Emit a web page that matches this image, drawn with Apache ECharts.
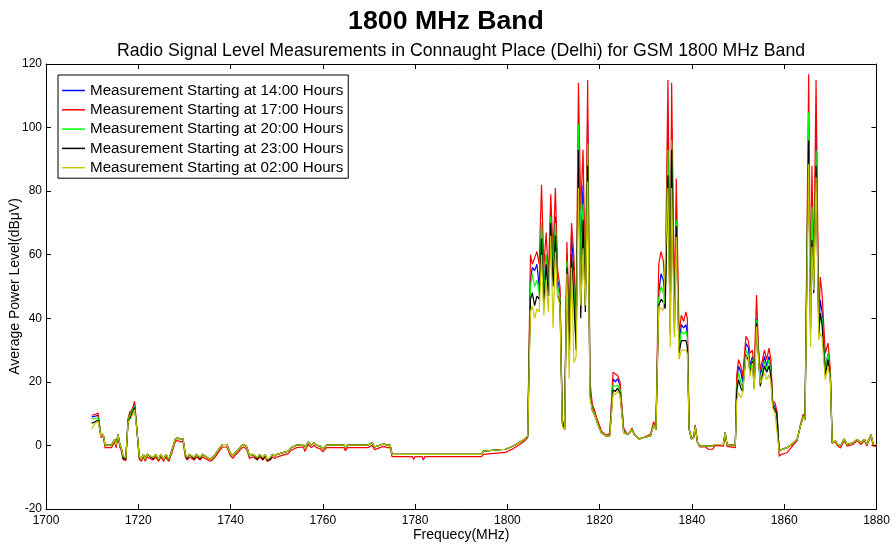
<!DOCTYPE html>
<html>
<head>
<meta charset="utf-8">
<script src="https://cdn.jsdelivr.net/npm/echarts@6/dist/echarts.min.js"></script>
<style>
html,body{margin:0;padding:0;background:#fff;}
#c{width:895px;height:545px;}
</style>
</head>
<body>
<div id="c"></div>
<script>
// Frequency samples (MHz)
const freq = [
1709.9,1710.7,1711.3,1711.9,1712.4,1712.8,1714.2,1714.6,1714.9,1715.2,
1715.6,1716.0,1716.3,1716.7,1717.3,1717.8,1718.2,1718.5,1719.2,1719.7,
1720.2,1720.7,1721.1,1721.5,1721.9,1723.2,1723.8,1724.4,1724.9,1725.5,
1726.0,1726.6,1727.3,1728.0,1728.5,1729.1,1729.7,1730.2,1730.6,1731.1,
1732.1,1732.6,1733.4,1733.9,1735.6,1736.1,1736.7,1737.7,1738.3,1739.2,
1739.9,1740.5,1741.0,1741.7,1742.3,1742.8,1743.4,1743.7,1744.1,1744.8,
1745.8,1746.3,1747.0,1747.5,1747.9,1748.6,1749.1,1749.6,1750.1,1752.5,
1753.2,1754.3,1755.8,1756.1,1756.8,1757.5,1758.1,1758.6,1759.4,1760.0,
1760.8,1764.6,1764.9,1765.3,1769.7,1770.0,1770.7,1771.2,1772.4,1773.2,
1773.9,1774.6,1775.0,1779.4,1779.7,1780.0,1781.5,1781.8,1782.1,1794.4,
1794.8,1799.6,1801.3,1802.6,1803.8,1804.4,1805.0,1805.4,1805.9,1806.4,
1806.9,1807.4,1807.9,1808.4,1808.9,1809.4,1809.9,1810.4,1810.9,1811.4,
1811.9,1812.4,1812.9,1813.4,1813.9,1814.4,1814.9,1815.4,1815.9,1816.4,
1816.9,1817.4,1817.9,1818.4,1818.9,1819.4,1819.9,1820.4,1821.4,1822.2,
1822.9,1823.4,1823.9,1824.4,1825.2,1826.0,1826.5,1827.0,1827.5,1828.5,
1829.5,1831.0,1831.7,1832.2,1832.8,1833.3,1833.8,1834.2,1834.8,1835.3,
1835.6,1836.2,1836.6,1837.2,1837.7,1838.2,1838.7,1839.0,1839.4,1839.9,
1840.4,1840.7,1841.2,1841.7,1843.0,1843.5,1844.5,1845.0,1846.8,1847.2,
1847.6,1848.0,1849.4,1849.7,1850.1,1850.6,1851.0,1851.7,1852.2,1852.6,
1853.1,1853.5,1854.0,1854.4,1854.8,1855.3,1855.7,1856.2,1856.7,1857.1,
1857.5,1858.0,1858.4,1858.9,1859.4,1860.6,1861.6,1862.8,1863.5,1864.1,
1864.5,1865.3,1865.7,1866.0,1866.4,1866.9,1867.5,1867.8,1868.2,1868.9,
1869.5,1870.0,1870.4,1871.1,1871.6,1872.2,1873.0,1873.6,1874.9,1875.8,
1876.6,1877.4,1877.9,1878.8,1879.3,1880.0
];

// Measurement starting at 14:00 hours (dBuV)
const level1400 = [
9,9.2,9.5,3,3.5,0.1,0.1,-0.2,1.9,0,
3.4,0.3,-0.7,-3.3,-3.9,8.2,10,9.5,13,5,
-3.3,-4.4,-2.8,-4.4,-2.8,-3.8,-2.8,-4.4,-2.8,-4.4,
-2.8,-4.4,-1.5,1.9,2.4,1.9,2.1,-2.8,-3.8,-2.8,
-3.8,-2.8,-3.8,-2.8,-4.4,-3.8,-2.8,-0.7,0.3,0.3,
-2.3,-3.3,-2.3,-1.3,-0.2,0.3,-0.2,-1.3,-3.3,-2.8,
-3.8,-2.8,-3.8,-2.8,-4.4,-3.8,-2.8,-3.3,-2.8,-1.8,
-0.7,0.1,0.3,-1.1,1.1,0.1,0.8,0.1,-0.2,-1.2,
0.1,0.1,-0.9,0.1,0.1,-0.5,0.8,-0.5,0.1,0.5,
0.1,0.1,-2.8,-2.8,-2.8,-2.8,-2.8,-2.8,-2.8,-2.8,
-1.8,-1.2,-0.2,0.9,2,3,52,56,55,57,
50,70,50,60,47,74,58,72,52,48,
8,5,60,38,66,55,35,97,60,82,
46,102,18,12,10,8,6,4,3,3.5,
21,20,21,19,5,3.5,4,5,3.5,2,
2.5,3,6.6,5,48,54,52,45,99,40,
100,40,74,32,38,37,38,35,5,2,
2.5,6,1,-0.2,-0.2,-0.2,-0.2,0.3,0.3,4,
0.3,0.1,0.1,20,25,23,20,32,31,25,
28,21,40,30,22,25,28,25,28,25,
13.5,12,10.5,-1.5,-1.3,-0.7,0.3,1.9,6,9.2,
8,100,40,78,50,100,36,45.8,42,24,
29,22,0.8,1.4,0.3,-0.2,2,0.3,0.8,1.9,
0.8,1.9,0.3,3.4,0.3,0.3
];

// Measurement starting at 17:00 hours
const level1700 = [
9.5,9.8,10.2,2.5,3,-0.7,-0.7,-1,1.2,-0.8,
2.8,-0.5,-1.5,-4.4,-4.8,8.5,10.8,10,13.9,5,
-4.4,-5,-3.6,-5,-3.6,-4.6,-3.6,-5,-3.6,-5,
-3.6,-5,-2.3,1.1,1.6,1.1,1.3,-3.6,-4.6,-3.6,
-4.6,-3.6,-4.6,-3.6,-5,-4.6,-3.6,-1.5,-0.5,-0.5,
-3.1,-4.1,-3.1,-2.1,-1,-0.5,-1,-2.1,-4.1,-3.6,
-4.6,-3.6,-4.6,-3.6,-5,-4.6,-3.6,-4.1,-3.6,-2.6,
-1.5,-0.7,-0.5,-1.9,0.3,-0.7,0,-0.7,-1,-2,
-0.7,-0.7,-1.7,-0.7,-0.7,-1.3,0,-1.3,-0.7,-0.3,
-0.7,-0.7,-3.5,-3.5,-4.4,-3.5,-3.5,-4.6,-3.5,-3.5,
-2.8,-2.2,-1,0.2,1.5,2.5,60,57,59,61,
57,82,56,67,53,79,60,81,55,50,
8,5.5,64,40,70,60,40,114,74,93,
50,115,20,13,11,8.5,6.5,4.5,3.2,3.8,
23,22.5,22,20,5.5,3.5,4,5.5,3.5,2,
2.5,3.5,7.5,5.5,57,61,58,48,115,42,
114,42,84,35,41,39,42,40,5.5,2.2,
2.7,6.5,1,-0.5,-0.5,-1.2,-1.2,0,-0.2,3.5,
-0.3,-0.7,-0.7,22,27,24.9,21.7,34.3,33,29,
30,23.8,47.3,31,23.8,27,30,27,30.6,27,
13.9,13.4,11,-3.4,-2.8,-2.3,-0.5,1.5,6.5,9.8,
8.5,116.8,45,88,55,115,38,53,47.9,29,
32.2,24,0.8,1,-0.2,-0.8,1.5,-0.2,0.3,1.5,
0.3,1.5,-0.2,3,-0.2,-0.2
];

// Measurement starting at 20:00 hours
const level2000 = [
8.4,8.5,8.7,3,3.5,0.1,0.1,-0.2,1.9,0,
3.4,0.3,-0.7,-3.5,-4,8.2,9.5,9.2,12.5,5,
-3.3,-4.4,-2.8,-4.4,-2.8,-3.8,-2.8,-4.4,-2.8,-4.4,
-2.8,-4.4,-1.5,1.9,2.4,1.9,2.1,-2.8,-3.8,-2.8,
-3.8,-2.8,-3.8,-2.8,-4.4,-3.8,-2.8,-0.7,0.3,0.3,
-2.3,-3.3,-2.3,-1.3,-0.2,0.3,-0.2,-1.3,-3.3,-2.8,
-3.8,-2.8,-3.8,-2.8,-4.4,-3.8,-2.8,-3.3,-2.8,-1.8,
-0.7,0.1,0.3,-1.1,1.1,0.1,0.8,0.1,-0.2,-1.2,
0.1,0.1,-0.9,0.1,0.1,-0.5,0.8,-0.5,0.1,0.5,
0.1,0.1,-2.8,-2.8,-2.8,-2.8,-2.8,-2.8,-2.8,-2.8,
-1.8,-1.2,-0.2,0.9,2,3,50,54,50,52,
48,70,48,60,48,72,55,70,50,46,
7,5,58,33,58,50,32,101,58,76,
44,95,17,11.5,10,7.5,5.5,4,3,3.2,
19,18.5,19,17.5,4.5,3.5,4,5,3.5,2,
2.5,3,6.6,5,46,50,48,44,93,38,
96,38,71,30,36,35,36,34,5,2,
2.5,6,1,-0.2,-0.2,-0.2,-0.2,0.3,0.3,4,
0.3,0.1,0.1,18,22.8,20,18,30,28.5,24,
27,20,39.5,29,20,23,26.5,24,27,23,
13,11,10,-1.8,-1.3,-0.7,0.3,1.9,6,9.2,
8,104.8,38,75,50,92.8,35,41.6,40,23,
29,21.5,0.8,1.4,0.3,-0.2,2,0.3,0.8,1.9,
0.8,1.9,0.3,3.4,0.3,0.3
];

// Measurement starting at 23:00 hours
const level2300 = [
7,7.5,8,3,3.5,0.1,0.1,-0.2,1.9,0,
3.4,0.3,-0.7,-4,-4.3,7.8,8.5,9,12,5,
-3.5,-4.4,-2.8,-4.4,-2.8,-4.2,-2.8,-4.6,-2.8,-4.4,
-2.8,-4.6,-1.5,1.9,2.4,1.9,2.1,-2.8,-4.3,-2.8,
-4.3,-2.8,-4.3,-2.8,-4.4,-3.8,-2.8,-0.7,0.3,0.3,
-2.3,-3.3,-2.3,-1.3,-0.2,0.3,-0.2,-1.3,-3.3,-2.8,
-4.4,-2.8,-4.4,-2.8,-4.6,-4.4,-2.8,-3.3,-2.8,-1.8,
-0.7,0.1,0.3,-1.1,1.1,0.1,0.8,0.1,-0.2,-1.2,
0.1,0.1,-0.9,0.1,0.1,-0.5,0.8,-0.5,0.1,0.5,
0.1,0.1,-2.8,-2.8,-2.8,-2.8,-2.8,-2.8,-2.8,-2.8,
-1.8,-1.2,-0.2,0.9,2,3,46,48,44,47,
46,65,44,57,47,70,50,66,47,45,
7,5,56,30,60,46,30,93,40,71,
42,88,16,11,9.5,7.5,5.5,4,3,3,
17.5,17,18,16.5,4,3.5,4,5,3.5,2,
2.5,3,6.3,5,44,46,45,43,85,35,
93,36,69,29,33,33,33,31,5,2,
2.5,6,1,-0.2,-0.2,-0.2,-0.2,0.3,0.3,4,
0.3,0.1,0.1,17,20.7,18,17,28.5,27,23,
26.5,18,38.4,28.5,18.6,22,25,23,25,22,
12.5,11,10,-1.8,-1.3,-0.7,0.3,1.9,6,9,
8,95.9,36,64.6,47.9,88,35.3,41.6,38,22,
27,21,0.8,1.4,0.3,-0.2,2,0.3,0.8,1.9,
0.8,1.9,0.3,3.4,0.3,0.3
];

// Measurement starting at 02:00 hours
const level0200 = [
5.2,7,7.6,2.9,3.5,0.1,0.1,-0.2,1.9,0,
3.4,0.3,-0.7,-3.3,-3.9,7.5,7.6,8.7,11.3,5,
-3.3,-4.4,-2.8,-4.4,-2.8,-3.8,-2.8,-4.4,-2.8,-4.4,
-2.8,-4.4,-1.5,1.9,2.4,1.9,2.1,-2.8,-3.8,-2.8,
-3.8,-2.8,-3.8,-2.8,-4.4,-3.8,-2.8,-0.7,0.3,0.3,
-2.3,-3.3,-2.3,-1.3,-0.2,0.3,-0.2,-1.3,-3.3,-2.8,
-3.8,-2.8,-3.8,-2.8,-4.4,-3.8,-2.8,-3.3,-2.8,-1.8,
-0.7,0.1,0.3,-1.1,1.1,0.1,0.8,0.1,-0.2,-1.2,
0.1,0.1,-0.9,0.1,0.1,-0.5,0.8,-0.5,0.1,0.5,
0.1,0.1,-2.8,-2.8,-2.8,-2.8,-2.8,-2.8,-2.8,-2.8,
-1.8,-1.2,-0.2,0.9,2,3,42,44,40,43,
42,60,41,52,42,66,37,61,47,44,
6,5,54,21,56,26,28,81,44,62,
44,83,15,11,9.5,7.5,5.5,4,3,3,
16.5,16,17,16,4,3.5,4,5,3.5,1.9,
2.5,3,6.3,5,43.7,43,42.5,42,81,31,
81,34,65.6,27,30,30,30,29,5,2,
2.5,6,1,-0.2,-0.2,-0.2,-0.2,0.3,0.3,4,
0.3,0.1,0.1,14,16.5,15,16.5,28,28,21.7,
25.9,17.6,37.4,28,19.6,21.2,22.8,20.7,22.3,20,
11.8,10.2,10,-1.8,-1.3,-0.7,0.3,1.9,6,9,
8,88.6,31,62.5,48.9,84.4,33.2,35.3,34,20.7,
24.9,20.7,0.8,1.4,0.3,-0.2,2,0.3,0.8,1.9,
0.8,1.9,0.3,3.4,0.3,0.3
];

const seriesNames = [
  'Measurement Starting at 14:00 Hours',
  'Measurement Starting at 17:00 Hours',
  'Measurement Starting at 20:00 Hours',
  'Measurement Starting at 23:00 Hours',
  'Measurement Starting at 02:00 Hours'
];
const seriesValues = [level1400, level1700, level2000, level2300, level0200];
const seriesColors = ['#0000ff', '#ff0000', '#00ff00', '#000000', '#c8c800'];

const FONT = '"Liberation Sans", Arial, sans-serif';

const chart = echarts.init(document.getElementById('c'), null, {renderer: 'canvas'});

function axisCommon(extra) {
  return Object.assign({
    type: 'value',
    axisLine: {show: true, onZero: false, lineStyle: {color: '#000', width: 1}},
    axisTick: {show: true, inside: true, length: 5, lineStyle: {color: '#000', width: 1}},
    splitLine: {show: false},
    nameMoveOverlap: false
  }, extra);
}

chart.setOption({
  animation: false,
  backgroundColor: '#fff',
  title: [
    {
      text: '1800 MHz Band',
      left: 441, top: 3, textAlign: 'center',
      textStyle: {fontFamily: FONT, fontSize: 26.7, fontWeight: 'bold', color: '#000'}
    },
    {
      text: 'Radio Signal Level Measurements in Connaught Place (Delhi) for GSM 1800 MHz Band',
      left: 456, top: 37, textAlign: 'center',
      textStyle: {fontFamily: FONT, fontSize: 17.7, fontWeight: 'normal', color: '#000'}
    }
  ],
  legend: {
    orient: 'vertical',
    left: 58, top: 75,
    backgroundColor: '#fff',
    borderColor: '#000', borderWidth: 1,
    padding: [8, 5, 3, 4],
    itemWidth: 23, itemHeight: 1.5, itemGap: 4.3,
    icon: 'rect',
    textStyle: {fontFamily: FONT, fontSize: 15.2, color: '#000'},
    data: seriesNames
  },
  grid: {left: 46, right: 18.5, top: 64, bottom: 36, containLabel: false, outerBoundsMode: 'none'},
  xAxis: [
    axisCommon({
      min: 1700, max: 1880, interval: 20, position: 'bottom',
      axisLabel: {color: '#000', fontFamily: FONT, fontSize: 12, margin: 6, formatter: v => String(v)},
      name: 'Frequecy(MHz)', nameLocation: 'middle', nameGap: 19,
      nameTextStyle: {fontFamily: FONT, fontSize: 14, color: '#000'}
    }),
    axisCommon({
      min: 1700, max: 1880, interval: 20, position: 'top',
      axisLabel: {show: false}
    })
  ],
  yAxis: [
    axisCommon({
      min: -20, max: 120, interval: 20, position: 'left',
      axisLabel: {color: '#000', fontFamily: FONT, fontSize: 12, margin: 4, formatter: v => String(v)},
      name: 'Average Power Level(dBμV)', nameLocation: 'middle', nameGap: 24,
      nameTextStyle: {fontFamily: FONT, fontSize: 14, color: '#000'}
    }),
    axisCommon({
      min: -20, max: 120, interval: 20, position: 'right',
      axisLabel: {show: false}
    })
  ],
  series: seriesNames.map((n, k) => ({
    name: n,
    type: 'line',
    xAxisIndex: 0, yAxisIndex: 0,
    showSymbol: false,
    symbol: 'none',
    silent: true,
    color: seriesColors[k],
    lineStyle: {color: seriesColors[k], width: 1.2},
    emphasis: {disabled: true},
    data: freq.map((f, i) => [f, seriesValues[k][i]])
  }))
});
</script>
</body>
</html>
